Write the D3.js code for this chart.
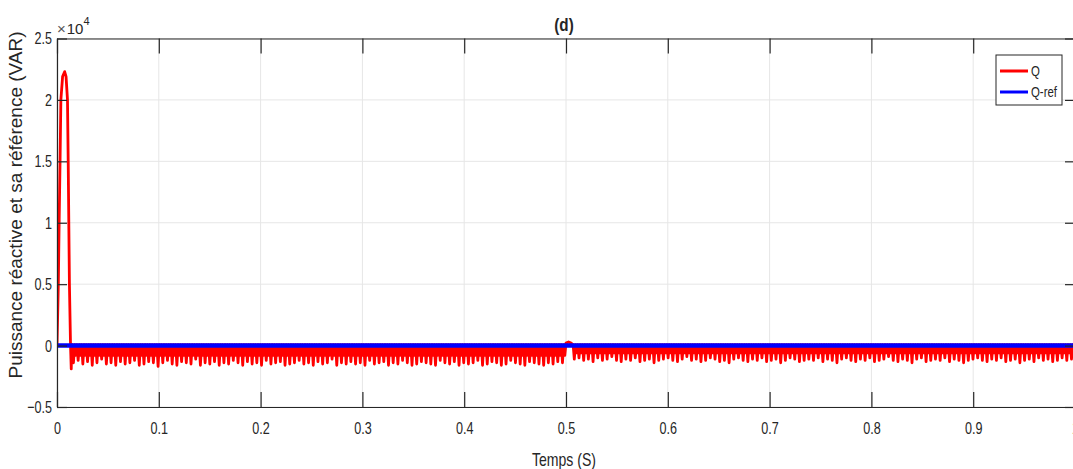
<!DOCTYPE html>
<html>
<head>
<meta charset="utf-8">
<script src="https://cdn.jsdelivr.net/npm/d3@7"></script>
<style>
body { margin: 0; background: #fff; }
text { font-family: "Liberation Sans", Arial, sans-serif; fill: #262626; }
</style>
</head>
<body>
<svg id="chart" width="1073" height="469"></svg>
<script>
// axis ticks
var xTicks = [0, 0.1, 0.2, 0.3, 0.4, 0.5, 0.6, 0.7, 0.8, 0.9, 1];
var yTicks = [-0.5, 0, 0.5, 1, 1.5, 2, 2.5];

// start-up spike of Q (time in s, value in x10^4 VAR)
var spikeT = [0, 0.0013, 0.0021, 0.003, 0.0038, 0.0055, 0.0075, 0.0089, 0.0103, 0.011, 0.0116, 0.0122, 0.0133, 0.0140, 0.0146];
var spikeQ = [0, 0.5, 1.0, 1.5, 2.0, 2.19, 2.23, 2.19, 2.0, 1.5, 1.0, 0.5, 0.0, -0.19, 0.01];

// ripple: depth of each deep dip, 0.015 -> 0.5 s
var dipsA = [-0.14,-0.12,-0.15,-0.13,-0.16,-0.14,-0.11,-0.15,-0.14,-0.16,
             -0.13,-0.15,-0.14,-0.12,-0.16,-0.15,-0.13,-0.14,-0.17,-0.14,
             -0.12,-0.15,-0.16,-0.13,-0.14,-0.15,-0.11,-0.16,-0.14,-0.15,
             -0.13,-0.16,-0.14,-0.15,-0.12,-0.14,-0.16,-0.13,-0.15,-0.14,
             -0.16,-0.12,-0.15,-0.14,-0.13,-0.16,-0.15,-0.14,-0.12,-0.15,
             -0.14,-0.16,-0.13,-0.15,-0.14,-0.11,-0.16,-0.14,-0.15,-0.13,
             -0.15,-0.14,-0.16,-0.12,-0.15,-0.14,-0.13,-0.16,-0.14,-0.15,
             -0.12,-0.14,-0.16,-0.15,-0.13,-0.14,-0.15,-0.16,-0.12,-0.14,
             -0.15,-0.13,-0.16,-0.14,-0.15,-0.14,-0.12,-0.16,-0.15,-0.13,
             -0.14,-0.16,-0.15,-0.12,-0.14,-0.15,-0.16,-0.13,-0.14,-0.15,
             -0.16,-0.14,-0.15,-0.13,-0.14];
var shallowA = -0.08;
// small bump at the 0.5 s step
var stepT = [0.5, 0.5025, 0.505];
var stepQ = [0.02, 0.03, 0.02];
// ripple: depth of each deep dip, 0.507 -> 1 s
var dipsB = [-0.11,-0.10,-0.12,-0.11,-0.13,-0.10,-0.12,-0.11,-0.09,-0.12,
             -0.13,-0.11,-0.12,-0.10,-0.13,-0.12,-0.11,-0.14,-0.12,-0.11,
             -0.10,-0.12,-0.13,-0.11,-0.09,-0.12,-0.11,-0.13,-0.12,-0.10,
             -0.11,-0.13,-0.12,-0.14,-0.11,-0.10,-0.12,-0.13,-0.11,-0.12,
             -0.10,-0.13,-0.12,-0.11,-0.14,-0.12,-0.10,-0.11,-0.13,-0.12,
             -0.11,-0.12,-0.10,-0.13,-0.11,-0.12,-0.14,-0.11,-0.10,-0.12,
             -0.13,-0.11,-0.12,-0.10,-0.13,-0.12,-0.11,-0.09,-0.12,-0.13,
             -0.11,-0.12,-0.14,-0.11,-0.10,-0.13,-0.12,-0.11,-0.12,-0.10,
             -0.13,-0.11,-0.12,-0.14,-0.12,-0.11,-0.10,-0.12,-0.13,-0.11,
             -0.12,-0.10,-0.13,-0.12,-0.11,-0.14,-0.12,-0.11,-0.13,-0.10,
             -0.12,-0.11,-0.13,-0.12,-0.10,-0.12,-0.11];
var shallowB = -0.06;
var rippleTop = 0.008;

// reference Q-ref
var refT = [0, 1];
var refQ = [0, 0];

var seriesNames = ["Q", "Q-ref"];
var seriesColors = ["#ff0000", "#0000ff"];

var margin = {top: 38.5, left: 57},
    width = 1018,
    height = 368.5;

var svg = d3.select("#chart");
var g = svg.append("g").attr("transform", "translate(" + margin.left + "," + margin.top + ")");

var x = d3.scaleLinear().domain([0, 1]).range([0, width]);
var y = d3.scaleLinear().domain([-0.5, 2.5]).range([height, 0]);

// build Q signal
var qData = spikeT.map(function(t, i){ return [t, spikeQ[i]]; });
function addRipple(dips, t0, t1, shallow){
    var st = (t1 - t0) / dips.length;
    dips.forEach(function(d, i){
        var t = t0 + i * st;
        qData.push([t, rippleTop]);
        qData.push([t + st / 4, d]);
        qData.push([t + st / 2, rippleTop]);
        qData.push([t + 3 * st / 4, shallow]);
    });
}
addRipple(dipsA, 0.015, 0.5, shallowA);
stepT.forEach(function(t, i){ qData.push([t, stepQ[i]]); });
addRipple(dipsB, 0.507, 1, shallowB);
qData.push([1, rippleTop]);
var refData = refT.map(function(t, i){ return [t, refQ[i]]; });

// squeeze text horizontally (the reference font is narrow)
function condense(sel, f){
    sel.each(function(){
        var len = this.getComputedTextLength();
        d3.select(this).attr("textLength", len * f).attr("lengthAdjust", "spacingAndGlyphs");
    });
}

// grid
g.append("g").selectAll("line").data(xTicks).enter().append("line")
    .attr("x1", function(d){ return x(d); }).attr("x2", function(d){ return x(d); })
    .attr("y1", 0).attr("y2", height)
    .attr("stroke", "#e6e6e6").attr("stroke-width", 1);
g.append("g").selectAll("line").data(yTicks).enter().append("line")
    .attr("x1", 0).attr("x2", width)
    .attr("y1", function(d){ return y(d); }).attr("y2", function(d){ return y(d); })
    .attr("stroke", "#e6e6e6").attr("stroke-width", 1);

// lines
svg.append("defs").append("clipPath").attr("id", "clip")
    .append("rect").attr("width", width).attr("height", height);
var line = d3.line().x(function(d){ return x(d[0]); }).y(function(d){ return y(d[1]); });
var plot = g.append("g").attr("clip-path", "url(#clip)");
plot.append("path").datum(qData).attr("d", line)
    .attr("fill", "none").attr("stroke", seriesColors[0]).attr("stroke-width", 2.8)
    .attr("stroke-linejoin", "round");
plot.append("path").datum(refData).attr("d", line)
    .attr("fill", "none").attr("stroke", seriesColors[1]).attr("stroke-width", 4.5);

// axes (MATLAB style, ticks inward, box)
var fmt = function(d){ return d3.format("")(+d.toFixed(2)); };
var xAxis = g.append("g").attr("transform", "translate(0," + height + ")")
    .call(d3.axisBottom(x).tickValues(xTicks).tickSizeInner(-15).tickSizeOuter(0).tickPadding(15).tickFormat(fmt));
var xTop = g.append("g")
    .call(d3.axisTop(x).tickValues(xTicks).tickSizeInner(-15).tickSizeOuter(0).tickFormat(""));
var yAxis = g.append("g")
    .call(d3.axisLeft(y).tickValues(yTicks).tickSizeInner(-10).tickSizeOuter(0).tickPadding(5).tickFormat(fmt));
var yRight = g.append("g").attr("transform", "translate(" + width + ",0)")
    .call(d3.axisRight(y).tickValues(yTicks).tickSizeInner(-10).tickSizeOuter(0).tickFormat(""));
[xAxis, xTop, yAxis, yRight].forEach(function(a){
    a.select(".domain").attr("stroke", "#262626").attr("stroke-width", 1.2);
    a.selectAll(".tick line").attr("stroke", "#262626").attr("stroke-width", 1.2);
    a.selectAll("text").attr("font-size", 17).attr("fill", "#262626")
        .style("font-family", '"Liberation Sans", Arial, sans-serif');
});
condense(xAxis.selectAll("text"), 0.74);
condense(yAxis.selectAll("text"), 0.74);

// exponent
var expo = svg.append("text").attr("x", 57).attr("y", 34).attr("font-size", 15);
expo.append("tspan").text("\u00d7").attr("fill", "#555");
expo.append("tspan").attr("dx", 1).text("10");
expo.append("tspan").attr("dy", -9).attr("font-size", 11).text("4");

// title and labels
var title = svg.append("text").attr("x", 564).attr("y", 31).attr("text-anchor", "middle")
    .attr("font-size", 19).attr("font-weight", "bold").text("(d)");
condense(title, 0.8);
var xLab = svg.append("text").attr("x", 564).attr("y", 466).attr("text-anchor", "middle")
    .attr("font-size", 19).text("Temps (S)");
condense(xLab, 0.74);
svg.append("text").attr("transform", "translate(22,205) rotate(-90)").attr("text-anchor", "middle")
    .attr("font-size", 19)
    .text("Puissance réactive et sa référence (VAR)");

// legend
var leg = svg.append("g").attr("transform", "translate(996,55)");
leg.append("rect").attr("width", 66).attr("height", 50)
    .attr("fill", "#fff").attr("stroke", "#262626").attr("stroke-width", 1);
seriesNames.forEach(function(name, i){
    var yy = 16 + i * 21;
    leg.append("line").attr("x1", 4).attr("x2", 32).attr("y1", yy).attr("y2", yy)
        .attr("stroke", seriesColors[i]).attr("stroke-width", 3);
    var t = leg.append("text").attr("x", 35).attr("y", yy + 5).attr("font-size", 15).text(name);
    condense(t, 0.76);
});
</script>
</body>
</html>
